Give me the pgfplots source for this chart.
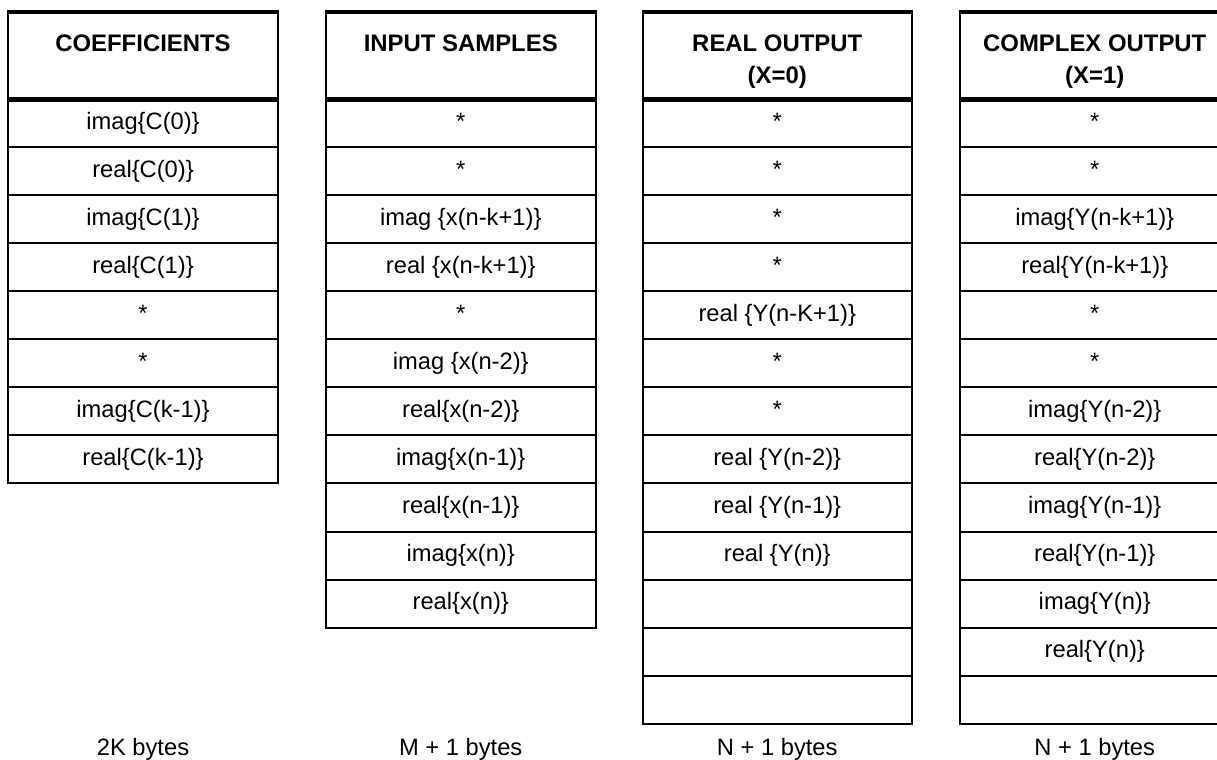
\documentclass[border=0pt]{standalone}
\usepackage{fontspec}
\setmainfont{Liberation Sans}
\usepackage{pgfplots}
\pgfplotsset{compat=1.18}

\begin{document}
\begin{tikzpicture}
\tikzset{
  gl/.style={black, line width=2bp, line cap=rect},
  gh/.style={black, line width=4.5bp, line cap=butt},
  cell/.style={anchor=base, inner sep=0pt, font=\fontsize{23.8}{28}\selectfont},
  head/.style={anchor=base, inner sep=0pt, font=\fontsize{24}{28}\selectfont\bfseries},
}
% x1, x2, bottom Y, list of row-line Y values
\newcommand\tablecol[4]{%
  \pgfplotsinvokeforeach{#4}{\addplot[gl, no markers] coordinates {(#1,##1) (#2,##1)};}
  \addplot[gl, no markers] coordinates {(#1,747) (#1,#3)};
  \addplot[gl, no markers] coordinates {(#2,747) (#2,#3)};
  \addplot[gh, no markers] coordinates {(#1-1,747) (#2+1,747)};
  \addplot[gh, no markers] coordinates {(#1-1,659.5) (#2+1,659.5)};
}
\begin{axis}[
  width=1217bp, height=759bp, scale only axis,
  xmin=0, xmax=1217, ymin=0, ymax=759,
  axis lines=none, ticks=none, clip mode=global,
]
% column 1: coefficients (8 rows)
\tablecol{8}{278}{275.5}{611.5,563.5,515.5,467.5,419.5,371.5,323.5,275.5}
% column 2: input samples (11 rows)
\tablecol{325.5}{596}{131.5}{611.5,563.5,515.5,467.5,419.5,371.5,323.5,275.5,227.5,179.5,131.5}
% column 3: real output (13 rows)
\tablecol{642.5}{912}{35.5}{611.5,563.5,515.5,467.5,419.5,371.5,323.5,275.5,227.5,179.5,131.5,83.5,35.5}
% column 4: complex output (13 rows)
\tablecol{959.5}{1230}{35.5}{611.5,563.5,515.5,467.5,419.5,371.5,323.5,275.5,227.5,179.5,131.5,83.5,35.5}

% headers
\node[head] at (143,707.5) {COEFFICIENTS};
\node[head] at (460.75,707.5) {INPUT SAMPLES};
\node[head] at (777.25,707.5) {REAL OUTPUT};
\node[head] at (777.25,675.5) {(X=0)};
\node[head] at (1094.75,707.5) {COMPLEX OUTPUT};
\node[head] at (1094.75,675.5) {(X=1)};

% column 1 cells
\node[cell] at (143,629.5) {imag\{C(0)\}};
\node[cell] at (143,581.5) {real\{C(0)\}};
\node[cell] at (143,533.5) {imag\{C(1)\}};
\node[cell] at (143,485.5) {real\{C(1)\}};
\node[cell] at (143,437.5) {*};
\node[cell] at (143,389.5) {*};
\node[cell] at (143,341.5) {imag\{C(k-1)\}};
\node[cell] at (143,293.5) {real\{C(k-1)\}};

% column 2 cells
\node[cell] at (460.75,629.5) {*};
\node[cell] at (460.75,581.5) {*};
\node[cell] at (460.75,533.5) {imag \{x(n-k+1)\}};
\node[cell] at (460.75,485.5) {real \{x(n-k+1)\}};
\node[cell] at (460.75,437.5) {*};
\node[cell] at (460.75,389.5) {imag \{x(n-2)\}};
\node[cell] at (460.75,341.5) {real\{x(n-2)\}};
\node[cell] at (460.75,293.5) {imag\{x(n-1)\}};
\node[cell] at (460.75,245.5) {real\{x(n-1)\}};
\node[cell] at (460.75,197.5) {imag\{x(n)\}};
\node[cell] at (460.75,149.5) {real\{x(n)\}};

% column 3 cells
\node[cell] at (777.25,629.5) {*};
\node[cell] at (777.25,581.5) {*};
\node[cell] at (777.25,533.5) {*};
\node[cell] at (777.25,485.5) {*};
\node[cell] at (777.25,437.5) {real \{Y(n-K+1)\}};
\node[cell] at (777.25,389.5) {*};
\node[cell] at (777.25,341.5) {*};
\node[cell] at (777.25,293.5) {real \{Y(n-2)\}};
\node[cell] at (777.25,245.5) {real \{Y(n-1)\}};
\node[cell] at (777.25,197.5) {real \{Y(n)\}};

% column 4 cells
\node[cell] at (1094.75,629.5) {*};
\node[cell] at (1094.75,581.5) {*};
\node[cell] at (1094.75,533.5) {imag\{Y(n-k+1)\}};
\node[cell] at (1094.75,485.5) {real\{Y(n-k+1)\}};
\node[cell] at (1094.75,437.5) {*};
\node[cell] at (1094.75,389.5) {*};
\node[cell] at (1094.75,341.5) {imag\{Y(n-2)\}};
\node[cell] at (1094.75,293.5) {real\{Y(n-2)\}};
\node[cell] at (1094.75,245.5) {imag\{Y(n-1)\}};
\node[cell] at (1094.75,197.5) {real\{Y(n-1)\}};
\node[cell] at (1094.75,149.5) {imag\{Y(n)\}};
\node[cell] at (1094.75,101.5) {real\{Y(n)\}};

% size labels
\node[cell] at (143,4) {2K bytes};
\node[cell] at (460.75,4) {M + 1 bytes};
\node[cell] at (777.25,4) {N + 1 bytes};
\node[cell] at (1094.75,4) {N + 1 bytes};
\end{axis}
\pgfresetboundingbox
\path (current axis.south west) rectangle (current axis.north east);
\end{tikzpicture}
\end{document}
